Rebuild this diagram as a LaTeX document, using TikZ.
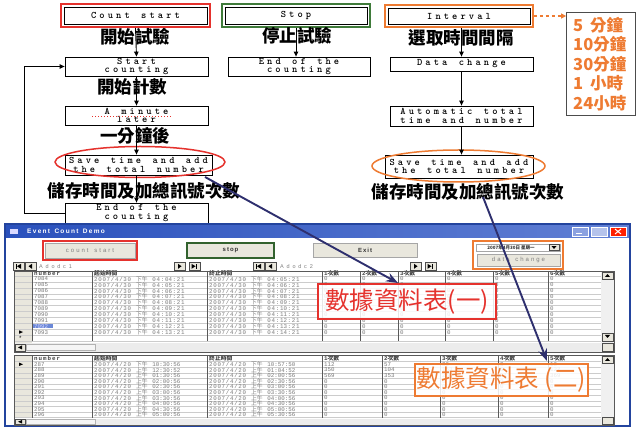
\documentclass[tikz,border=0pt]{standalone}
\usepackage{fontspec}
\usetikzlibrary{arrows.meta,fit,calc,shapes.geometric}
\newfontfamily\cjk{Noto Sans CJK TC}
\newfontfamily\monofnt{Liberation Mono}
\newfontfamily\uifnt{Liberation Sans}
\definecolor{cred}{HTML}{E5322D}
\definecolor{cgreen}{HTML}{3F7B3A}
\definecolor{corange}{HTML}{EE7B32}
\definecolor{cnavy}{HTML}{2E2F6E}
\definecolor{ctitle}{HTML}{2C55C6}
\definecolor{cgray}{HTML}{7A7A7A}
\definecolor{cbtn}{HTML}{E9E7DD}
\makeatletter
\def\trk@end{\trk@end@}
\newcommand\trk[2]{\def\trk@k{#1}\trk@a#2\trk@end}
\def\trk@a#1{\ifx\trk@end#1\kern-\trk@k\else{#1}\kern\trk@k\expandafter\trk@a\fi}
\makeatother
\newcommand\bt[1]{\trk{3.1pt}{#1}}
\newcommand\boxfnt{\ttfamily\bfseries\fontsize{10}{8.8}\selectfont}
\newcommand\navbtn[2]{%
  \draw[navb] (#1,262) rectangle ++(11,8.5);
  \ifcase#2
    \fill (#1+2.5,263.8) rectangle ++(1,5); \fill (#1+8,263.8) -- (#1+4,266.25) -- (#1+8,268.8) -- cycle;
  \or
    \fill (#1+7,263.8) -- (#1+3.5,266.25) -- (#1+7,268.8) -- cycle;
  \or
    \fill (#1+4,263.8) -- (#1+7.5,266.25) -- (#1+4,268.8) -- cycle;
  \or
    \fill (#1+2.5,263.8) -- (#1+6.5,266.25) -- (#1+2.5,268.8) -- cycle; \fill (#1+7,263.8) rectangle ++(1,5);
  \fi}
\begin{document}
\begin{tikzpicture}[x=1pt,y=-1pt,
  fbox/.style={draw=black, line width=0.8pt, font=\boxfnt, align=center, inner sep=0pt, minimum width=143pt},
  lbl/.style={font=\cjk\bfseries\fontsize{17.5}{18}\selectfont, inner sep=0pt},
  farr/.style={-{Triangle[length=5pt,width=4.5pt]}, line width=0.9pt},
  navyarr/.style={-{Stealth[length=12pt,width=9pt]}, draw=cnavy, line width=1.9pt},
  cell/.style={anchor=west, inner sep=0pt, text=cgray, font=\monofnt\fontsize{5.8}{5.8}\selectfont},
  hcell/.style={cell, text=black!75, font=\monofnt\bfseries\fontsize{5.8}{5.8}\selectfont},
  btn/.style={fill=cbtn, draw=gray!70, inner sep=0pt, font=\uifnt\fontsize{6}{6}\selectfont, text=gray},
  lst/.style={anchor=west, inner sep=0pt, text=corange, font=\cjk\bfseries\fontsize{16.5}{17}\selectfont},
  navb/.style={draw=black!70, fill=cbtn, line width=0.5pt},
  tlabel/.style={fill=white, fill opacity=0.85, text opacity=1, line width=2pt, inner sep=0pt, font=\cjk\fontsize{24.5}{25}\selectfont},
]
\useasboundingbox (0,0) rectangle (637,427);
\fill[white] (0,0) rectangle (637,427);

% ---------- flow chart: left column
\node[fbox, minimum height=17pt] (cs) at (135.5,15.5) {\bt{Count~start}};
\node[fit=(cs), inner sep=2.5pt, draw=cred, line width=2pt] (csf) {};
\node[fbox, minimum height=19pt] (sc) at (136.5,66.5) {\bt{Start}\\\bt{counting}};
\node[fbox, minimum height=19pt] (ml) at (136.5,115.5) {\bt{A~minute}\\\bt{later}};
\node[fbox, minimum height=20pt, minimum width=147pt] (sv1) at (138.5,165) {\bt{Save~time~and~add}\\\bt{the~total~number}};
\node[fbox, minimum height=20pt] (ec1) at (136.5,213) {\bt{End~of~the}\\\bt{counting}};
\draw[cred, dotted, line width=1pt] (92,116.5) -- (172,116.5);
\node[draw=cred, line width=1.5pt, ellipse, minimum width=170pt, minimum height=31pt] (e1) at (140,162) {};

% middle column
\node[fbox, minimum height=17pt, minimum width=142pt] (st) at (296,15.5) {\bt{Stop}};
\node[fit=(st), inner sep=2.5pt, draw=cgreen, line width=2pt] (stf) {};
\node[fbox, minimum height=19pt, minimum width=142pt] (ec2) at (299,66.5) {\bt{End~of~the}\\\bt{counting}};

% right column
\node[fbox, minimum height=16pt, minimum width=142pt] (iv) at (459,16) {\bt{Interval}};
\node[fit=(iv), inner sep=2.5pt, draw=corange, line width=2pt] (ivf) {};
\node[fbox, minimum height=14pt] (dc) at (461.5,64) {\bt{Data~change}};
\node[fbox, minimum height=20pt] (at) at (461.5,116) {\bt{Automatic~total}\\\bt{time~and~number}};
\node[fbox, minimum height=23pt, minimum width=148pt] (sv2) at (459,166.5) {\bt{Save~time~and~add}\\\bt{the~total~number}};
\node[draw=corange, line width=1.5pt, ellipse, minimum width=173pt, minimum height=32pt] (e2) at (458.5,166) {};

% option list
\node[draw=black!70, line width=0.8pt, minimum width=69pt, minimum height=103pt, inner sep=0pt] (lst) at (601,64) {};
\node[lst] (o1) at (573,25) {\makebox[17pt][l]{5}分鐘};
\node[lst] (o2) at (573,44.5) {10分鐘};
\node[lst] (o3) at (573,64) {30分鐘};
\node[lst] (o4) at (573,83.5) {\makebox[17pt][l]{1}小時};
\node[lst] (o5) at (573,103) {24小時};
\draw[corange, dashed, line width=1.2pt, -{Triangle[length=5pt,width=5pt]}] (ivf.east) -- (ivf.east -| lst.west);

% connectors
\draw[farr] (csf.south) -- (sc.north);
\draw[farr] (sc.south) -- (ml.south |- ml.north);
\draw[farr] (ml.south) -- (ml.south |- sv1.north);
\draw[farr] (ml.south |- sv1.south) -- (ml.south |- ec1.north);
\draw[farr] (ec1.west) -- ++(-40,0) |- (sc.west);
\draw[farr] (stf.south) -- (stf.south |- ec2.north);
\draw[farr] (ivf.south -| dc.north) -- (dc.north);
\draw[farr] (dc.south) -- (at.north);
\draw[farr] (at.south) -- (at.south |- sv2.north);

% CJK labels
\node[lbl] (l1) at (135,37) {開始試驗};
\node[lbl] (l2) at (132,86.5) {開始計數};
\node[lbl] (l3) at (135,135.5) {一分鐘後};
\node[lbl] (l4) at (144,191) {儲存時間及加總訊號次數};
\node[lbl] (l5) at (297,36) {停止試驗};
\node[lbl] (l6) at (461,38) {選取時間間隔};
\node[lbl] (l7) at (468,192) {儲存時間及加總訊號次數};

% ---------- application window
\fill[white] (5,224) rectangle (630,426);
\shade[left color=ctitle!95!black, right color=ctitle!75!white] (5,224) rectangle (630,238);
\fill[white!85!blue] (10,229) rectangle (18,234);
\node[anchor=west, inner sep=0pt, text=white, font=\uifnt\bfseries\fontsize{6.5}{7}\selectfont] (ttl) at (27,231) {\trk{1.3pt}{Event~Count~Demo}};
\draw[white, fill=ctitle!55!white, line width=0.4pt] (572,227) rectangle (588,236);
\draw[white, line width=0.8pt] (576,233.5) -- (582,233.5);
\draw[white, fill=ctitle!35!white, line width=0.4pt] (591,227) rectangle (607,236);
\draw[white, fill=red!75!orange, line width=0.4pt] (610,227) rectangle (626,236);
\draw[white, line width=1pt] (615,229) -- (621,234) (621,229) -- (615,234);
\draw[ctitle!80!black, line width=1.2pt] (5,224) rectangle (630,426);

% buttons
\node[btn, minimum width=90pt, minimum height=15pt] (bcs) at (90,250.5) {\trk{2pt}{count~start}};
\node[fit=(bcs), inner sep=2pt, draw=cred, line width=1.5pt] (bcsf) {};
\node[btn, minimum width=87pt, minimum height=15pt, draw=cgreen!80!black, line width=1.5pt, text=black!80, font=\uifnt\bfseries\fontsize{6}{6}\selectfont] (bst) at (230.5,250.5) {\trk{1pt}{stop}};
\node[btn, minimum width=104pt, minimum height=14pt, text=black!80, font=\uifnt\bfseries\fontsize{6}{6}\selectfont] (bex) at (365,250) {\trk{1pt}{Exit}};
\node[draw=gray!70, fill=white, minimum width=84pt, minimum height=7pt, inner sep=0pt, font=\cjk\bfseries\fontsize{4.5}{5}\selectfont, text=black!80] (cmb) at (518,247.5) {\hspace*{-14pt}2007年4月30日 星期一};
\draw[navb] (549,244.5) rectangle (559,250.5);
\fill (551.5,246.2) -- (556.5,246.2) -- (554,248.8) -- cycle;
\node[btn, minimum width=83pt, minimum height=12pt] (bdc) at (518.5,260) {\trk{2pt}{data~change}};
\node[fit=(cmb)(bdc), inner sep=3pt, draw=corange, line width=1.5pt] (cmbf) {};

% navigators
\navbtn{13}{0}\navbtn{25}{1}
\node[anchor=west, inner sep=0pt, font=\uifnt\fontsize{5.5}{6}\selectfont, text=gray] (nv1) at (39,266.2) {\trk{2.8pt}{Adodc1}};
\navbtn{174}{2}\navbtn{189}{3}
\navbtn{253}{0}\navbtn{265}{1}
\node[anchor=west, inner sep=0pt, font=\uifnt\fontsize{5.5}{6}\selectfont, text=gray] (nv2) at (280,266.2) {\trk{2.8pt}{Adodc2}};
\navbtn{410}{2}\navbtn{425}{3}

% ---------- table 1
\fill[cbtn] (14,271) rectangle (32,343);
\foreach \k in {0,...,11} \draw[gray!40, line width=0.3pt] (14,{276+5.9*\k}) -- (601,{276+5.9*\k});
\foreach \x in {32,92,207,322,360,398,445,493,548} \draw[gray!70!black, line width=0.5pt] (\x,271) -- (\x,341);
\node[hcell] at (34,273.5) {\trk{1pt}{number}};
\node[hcell] at (94,273.5) {{\cjk 起始時間}};
\node[hcell] at (209,273.5) {{\cjk 終止時間}};
\foreach \x/\h in {324/1,362/2,400/3,447/4,495/5,550/6} \node[hcell] at (\x,273.5) {\h{\cjk 次數}};
\fill[ctitle!70] (33,{276+5.9*8+0.6}) rectangle (53,{276+5.9*9-0.6});
\foreach \rn/\sa/\sb [count=\k from 0] in {7084/04/05,7085/05/06,7086/06/07,7087/07/08,7088/08/09,7089/09/10,7090/10/11,7091/11/12,7092/12/13,7093/13/14} {
  \ifnum\k=8 \node[cell, text=white!85!blue] at (34,{279+5.9*\k}) {\rn}; \else \node[cell] at (34,{279+5.9*\k}) {\rn}; \fi
  \node[cell] at (94,{279+5.9*\k}) {\trk{0.7pt}{2007/4/30~{\cjk 下午}~04:\sa:21}};
  \node[cell] at (209,{279+5.9*\k}) {\trk{0.7pt}{2007/4/30~{\cjk 下午}~04:\sb:21}};
  \foreach \x in {324,362,400,447,495,550} \node[cell] at (\x,{279+5.9*\k}) {0};
}
\fill (19,{276+5.9*9+1.2}) -- (23,{276+5.9*9+2.95}) -- (19,{276+5.9*9+4.7}) -- cycle;
\node[cell, text=black] at (18.5,{279+5.9*10}) {*};
\fill[gray!15] (14,343) rectangle (601,352);
\draw[navb] (15,344) rectangle (25,351);
\fill (22,345.5) -- (18,347.5) -- (22,349.5) -- cycle;
\draw[gray!60, fill=gray!8] (26,344.5) rectangle (95,350.5);
\fill[gray!12] (601,271) rectangle (614,352);
\draw[navb] (602,272) rectangle (613,279);
\fill (605,277) -- (607.5,274) -- (610,277) -- cycle;
\draw[navb] (602,333) rectangle (613,341);
\fill (605,335) -- (607.5,338) -- (610,335) -- cycle;
\draw[navb] (602,343) rectangle (613,351);
\draw[gray!70!black, line width=0.6pt] (14,271) rectangle (614,352);

% ---------- table 2
\fill[cbtn] (14,355.5) rectangle (32,418);
\foreach \k in {0,...,10} \draw[gray!40, line width=0.3pt] (14,{361.5+5.6*\k}) -- (601,{361.5+5.6*\k});
\foreach \x in {32,92,207,322,382,440,498,548} \draw[gray!70!black, line width=0.5pt] (\x,355.5) -- (\x,418);
\node[hcell] at (34,358.5) {\trk{1pt}{number}};
\node[hcell] at (94,358.5) {{\cjk 起始時間}};
\node[hcell] at (209,358.5) {{\cjk 終止時間}};
\foreach \x/\h in {324/1,384/2,442/3,500/4,550/5} \node[hcell] at (\x,358.5) {\h{\cjk 次數}};
\foreach \rn/\pa/\ta/\pb/\tb/\va/\vb/\vc/\vd/\ve [count=\k from 0] in {
  287/下午/10:30:56/下午/10:57:50/112/57/30/8/16,
  288/上午/12:30:52/上午/01:04:52/350/104/153/5/127,
  289/上午/01:30:56/上午/02:00:56/569/353/260/11/369,
  290/上午/02:00:56/上午/02:30:56/0/0/0/0/0,
  291/上午/02:30:56/上午/03:00:56/0/0/0/0/0,
  292/上午/03:00:56/上午/03:30:56/0/0/0/0/0,
  293/上午/03:30:56/上午/04:00:56/0/0/0/0/0,
  294/上午/04:00:56/上午/04:30:56/0/0/0/0/0,
  295/上午/04:30:56/上午/05:00:56/0/0/0/0/0,
  296/上午/05:00:56/上午/05:30:56/0/0/0/0/0} {
  \node[cell] at (34,{364.3+5.6*\k}) {\rn};
  \node[cell] at (94,{364.3+5.6*\k}) {\trk{0.7pt}{2007/4/20~{\cjk\pa}~\ta}};
  \node[cell] at (209,{364.3+5.6*\k}) {\trk{0.7pt}{2007/4/20~{\cjk\pb}~\tb}};
  \node[cell] at (324,{364.3+5.6*\k}) {\va};
  \node[cell] at (384,{364.3+5.6*\k}) {\vb};
  \node[cell] at (442,{364.3+5.6*\k}) {\vc};
  \node[cell] at (500,{364.3+5.6*\k}) {\vd};
  \node[cell] at (550,{364.3+5.6*\k}) {\ve};
}
\fill (19,362.6) -- (23,364.3) -- (19,366) -- cycle;
\fill[gray!15] (14,418.5) rectangle (601,425);
\draw[navb] (15,419) rectangle (25,424.5);
\fill (22,420) -- (18,421.75) -- (22,423.5) -- cycle;
\draw[gray!60, fill=gray!8] (26,419.3) rectangle (95,424.3);
\fill[gray!12] (601,355.5) rectangle (614,425);
\draw[navb] (602,356.5) rectangle (613,363);
\fill (605,361) -- (607.5,358) -- (610,361) -- cycle;
\draw[navb] (602,417) rectangle (613,424);
\draw[gray!70!black, line width=0.6pt] (14,355.5) rectangle (614,425.5);

% table labels
\node[tlabel, draw=cred, text=cred, minimum width=178pt, minimum height=35pt] (t1) at (407,301.5) {數據資料表(一)};
\node[tlabel, draw=corange, text=corange, minimum width=173pt, minimum height=32pt] (t2) at (501.5,380) {數據資料表 (二)};

% navy arrows
\coordinate (a1s) at (205,177);
\coordinate (a1e) at (398,283);
\coordinate (a2s) at (483,197);
\coordinate (a2e) at (547,361);
\draw[navyarr] (a1s) -- (a1e);
\draw[navyarr] (a2s) -- (a2e);
\end{tikzpicture}
\end{document}
